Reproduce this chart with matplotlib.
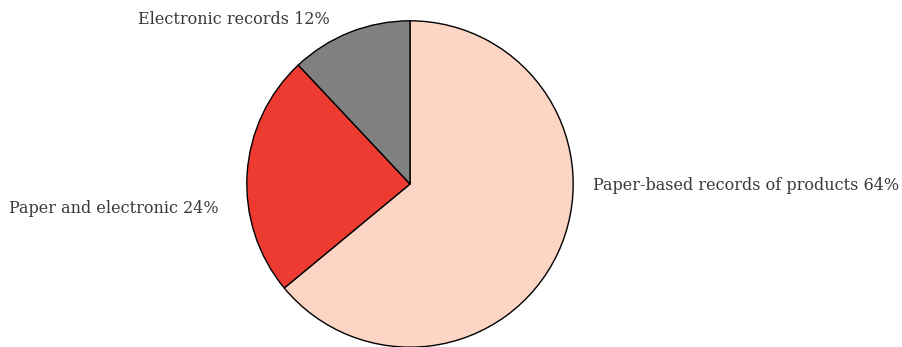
import matplotlib
matplotlib.use('Agg')
import matplotlib.pyplot as plt

labels = ['Paper-based records of products 64%', 'Paper and electronic 24%', 'Electronic records 12%']
values = [64, 24, 12]
colors = ['#fcd5c5', '#ee3b32', '#808080']
# label anchor points (in pie radius units) and alignment
label_pos = [(1.12, -0.01), (-1.17, -0.15), (-0.49, 1.01)]
label_ha = ['left', 'right', 'right']

fig = plt.figure(figsize=(9.03, 3.47), dpi=100)
ax = fig.add_axes([(410 - 164) / 903, (347 - 184 - 164) / 347, 328 / 903, 328 / 347])

wedges, _ = ax.pie(values, colors=colors, startangle=90, counterclock=False,
                   wedgeprops={'edgecolor': 'black', 'linewidth': 1})
ax.set_xlim(-1.005, 1.005)
ax.set_ylim(-1.005, 1.005)
ax.set_aspect('equal')
ax.axis('off')

for lab, (x, y), ha in zip(labels, label_pos, label_ha):
    ax.text(x, y, lab, ha=ha, va='center', fontsize=11.5, family='DejaVu Serif',
            color='#3a3a3a', clip_on=False)

fig.savefig('out.png', dpi=100)
